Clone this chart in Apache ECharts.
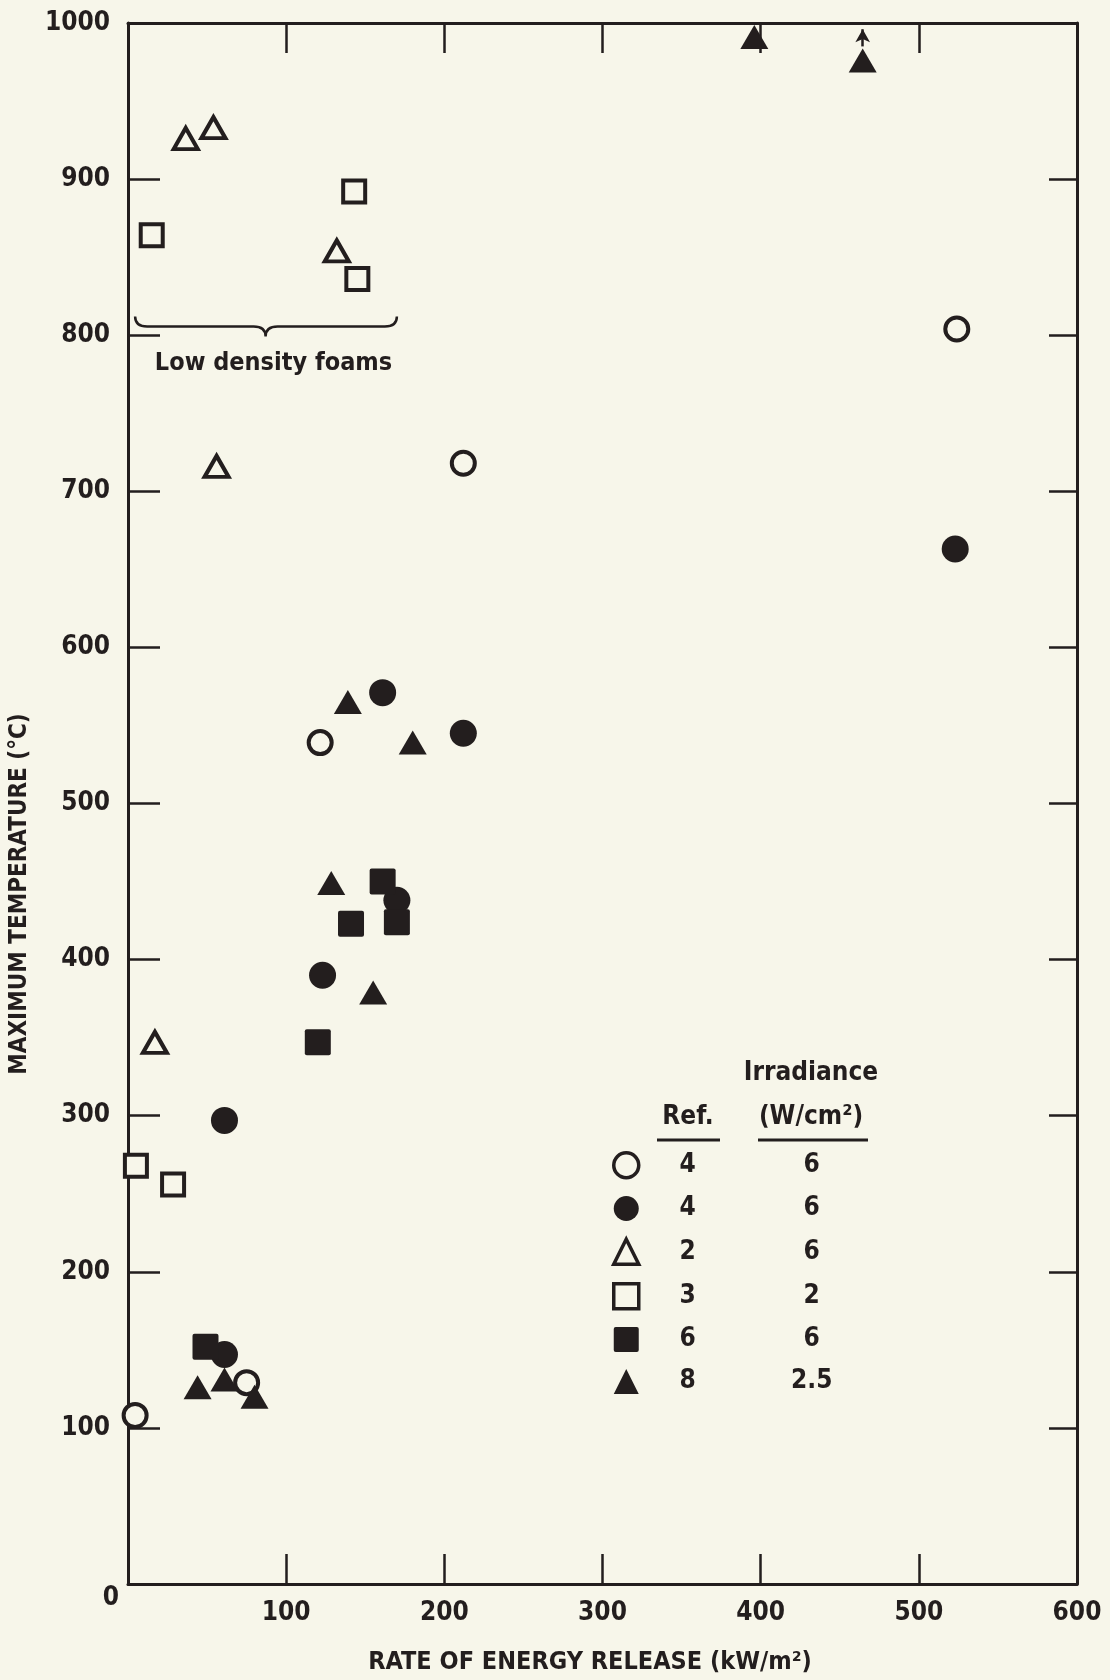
<!DOCTYPE html>
<html>
<head>
<meta charset="utf-8">
<script src="https://cdn.jsdelivr.net/npm/echarts@6/dist/echarts.min.js"></script>
<style>
  html, body { margin: 0; padding: 0; background: #f7f6ea; }
  #chart { width: 1110px; height: 1680px; }
</style>
</head>
<body>
<div id="chart"></div>
<script>
// ---- data (x: rate of energy release kW/m2, y: max temperature C) ----
const xTicks = [0, 100, 200, 300, 400, 500, 600];
const yTicks = [0, 100, 200, 300, 400, 500, 600, 700, 800, 900, 1000];

const openCircles    = [[4.5,108],[75,129],[121.5,539],[212,718],[524,804]];
const filledCircles  = [[61,147],[61,297],[123,390],[170,438],[212,545],[161,571],[523,663]];
const openTriangles  = [[17,347],[56,716],[132,854],[36.5,926],[54,933]];
const openSquares    = [[5,268],[28.5,256],[15,864],[145,836],[143,892]];
const filledSquares  = [[49,152],[120,347],[141,423],[170,424],[161,450]];
const filledTriangles= [[44,126],[61,131],[80,120],[155,379],[128.5,449],[180,539],[139,565],[396,991],[464.5,976]];

const seriesNames = ['open circle','filled circle','open triangle','open square','filled square','filled triangle'];
const legendRefs  = ['4','4','2','3','6','8'];
const legendIrr   = ['6','6','6','2','6','2.5'];

// arrow above the off-scale point (value continues beyond)
const arrowFrom = [464.5, 985];
const arrowTo   = [464.5, 996];

// brace over the low density foams: [xStart, xEnd, yBase, xTip]
const braceData = [[4.5, 170, 805.5, 87]];
const braceLabel = 'Low density foams';
const braceLabelPos = [92, 782];

const xTitle = 'RATE OF ENERGY RELEASE (kW/m\u00b2)';
const yTitle = 'MAXIMUM TEMPERATURE (\u00b0C)';

const ink = '#231e1e';
const bg = '#f7f6ea';
const font = "'Liberation Sans Narrow', 'DejaVu Sans Condensed', 'Arial Narrow', sans-serif";
const squarePath = 'path://M2,0 L24,0 Q26,0 26,2 L26,24 Q26,26 24,26 L2,26 Q0,26 0,24 L0,2 Q0,0 2,0 Z';

const chart = echarts.init(document.getElementById('chart'));

const commonX = {
  type: 'value', min: xTicks[0], max: xTicks[xTicks.length - 1], interval: 100,
  axisLine: { show: true, onZero: false, lineStyle: { color: ink, width: 3 } },
  axisTick: { show: true, inside: true, length: 30, lineStyle: { color: ink, width: 2.5 } },
  splitLine: { show: false }
};
const commonY = {
  type: 'value', min: yTicks[0], max: yTicks[yTicks.length - 1], interval: 100,
  axisLine: { show: true, onZero: false, lineStyle: { color: ink, width: 3 } },
  axisTick: { show: true, inside: true, length: 32, lineStyle: { color: ink, width: 2.5 } },
  splitLine: { show: false }
};

function sc(name, data, symbol, size, open) {
  return {
    name: name, type: 'scatter', xAxisIndex: 0, yAxisIndex: 0,
    data: data, symbol: symbol, symbolSize: size,
    itemStyle: open
      ? { color: bg, borderColor: ink, borderWidth: 4, opacity: 1 }
      : { color: ink, borderColor: ink, borderWidth: 0, opacity: 1 },
    emphasis: { disabled: true },
    z: open ? 3 : 4
  };
}

const series = [
  sc(seriesNames[0], openCircles, 'circle', 23, true),
  sc(seriesNames[1], filledCircles, 'circle', 27, false),
  sc(seriesNames[2], openTriangles, 'triangle', [24, 21], true),
  sc(seriesNames[3], openSquares, 'rect', 22, true),
  sc(seriesNames[4], filledSquares, squarePath, 26, false),
  sc(seriesNames[5], filledTriangles, 'triangle', [28, 24], false)
];
series[5].markLine = {
  silent: true, symbol: ['none', 'arrow'], symbolSize: [11, 13],
  label: { show: false },
  lineStyle: { color: ink, width: 2.5, type: 'solid' },
  data: [[{ coord: arrowFrom }, { coord: arrowTo }]]
};

series.push({
  type: 'custom', name: 'brace', xAxisIndex: 0, yAxisIndex: 0,
  silent: true, z: 2,
  data: braceData,
  renderItem: function (params, api) {
    const x0 = api.value(0), x1 = api.value(1), yb = api.value(2), xt = api.value(3);
    const pL = api.coord([x0, yb]), pR = api.coord([x1, yb]), pT = api.coord([xt, yb]);
    const y = pL[1];
    const c = 12, d = 10;
    const path = 'M' + pL[0] + ' ' + (y - d) +
      ' Q' + pL[0] + ' ' + y + ' ' + (pL[0] + c) + ' ' + y +
      ' L' + (pT[0] - c) + ' ' + y +
      ' Q' + pT[0] + ' ' + y + ' ' + pT[0] + ' ' + (y + d) +
      ' Q' + pT[0] + ' ' + y + ' ' + (pT[0] + c) + ' ' + y +
      ' L' + (pR[0] - c) + ' ' + y +
      ' Q' + pR[0] + ' ' + y + ' ' + pR[0] + ' ' + (y - d);
    const pText = api.coord(braceLabelPos);
    return {
      type: 'group',
      children: [
        { type: 'path', shape: { pathData: path },
          style: { fill: null, stroke: ink, lineWidth: 2.5 } },
        { type: 'text', x: pText[0], y: pText[1],
          style: { text: braceLabel, fill: ink, font: 'bold 25px ' + font,
                   textAlign: 'center', textVerticalAlign: 'middle' } }
      ]
    };
  }
});

const legendData = seriesNames.map((n, i) => ({
  name: n,
  itemStyle: { borderWidth: (i === 0 || i === 2 || i === 3) ? 3.5 : 0 }
}));

const option = {
  backgroundColor: bg,
  animation: false,
  textStyle: { fontFamily: font },
  grid: { left: 128, top: 23, right: 33, bottom: 96, containLabel: false },
  xAxis: [
    Object.assign({}, commonX, {
      position: 'bottom',
      axisLabel: { show: true, margin: 16, fontSize: 26, fontWeight: 'bold', color: ink, fontFamily: font,
        formatter: v => v === 0 ? '' : String(v) }
    }),
    Object.assign({}, commonX, { position: 'top', axisLabel: { show: false } })
  ],
  yAxis: [
    Object.assign({}, commonY, {
      position: 'left',
      axisLabel: { show: true, margin: 18, fontSize: 26, fontWeight: 'bold', color: ink, fontFamily: font,
        formatter: v => v === 0 ? '' : String(v) }
    }),
    Object.assign({}, commonY, { position: 'right', axisTick: Object.assign({}, commonY.axisTick, { length: 28 }), axisLabel: { show: false } })
  ],
  legend: {
    orient: 'vertical', left: 607, top: 1146, padding: 5,
    itemWidth: 25, itemHeight: 25, itemGap: 16, itemTextGap: 21,
    selectedMode: false,
    data: legendData,
    formatter: function (name) {
      const i = seriesNames.indexOf(name);
      return '{r|' + legendRefs[i] + '}{i|' + legendIrr[i] + '}';
    },
    textStyle: {
      color: ink, fontFamily: font, fontWeight: 'bold', fontSize: 26,
      rich: {
        r: { width: 88, align: 'center', fontSize: 26, fontWeight: 'bold', fontFamily: font, color: ink },
        i: { width: 160, align: 'center', fontSize: 26, fontWeight: 'bold', fontFamily: font, color: ink }
      }
    }
  },
  graphic: [
    { type: 'text', x: 590, y: 1662, silent: true,
      style: { text: xTitle, font: 'bold 25px ' + font, fill: ink, textAlign: 'center', textVerticalAlign: 'middle' } },
    { type: 'text', x: 20, y: 894, rotation: Math.PI / 2, silent: true,
      style: { text: yTitle, font: 'bold 24px ' + font, fill: ink, textAlign: 'center', textVerticalAlign: 'middle' } },
    { type: 'text', x: 111, y: 1598, silent: true,
      style: { text: '0', font: 'bold 26px ' + font, fill: ink, textAlign: 'center', textVerticalAlign: 'middle' } },
    { type: 'text', x: 811, y: 1073, silent: true,
      style: { text: 'Irradiance', font: 'bold 26px ' + font, fill: ink, textAlign: 'center', textVerticalAlign: 'middle' } },
    { type: 'text', x: 811, y: 1117, silent: true,
      style: { text: '(W/cm\u00b2)', font: 'bold 26px ' + font, fill: ink, textAlign: 'center', textVerticalAlign: 'middle' } },
    { type: 'text', x: 688, y: 1117, silent: true,
      style: { text: 'Ref.', font: 'bold 26px ' + font, fill: ink, textAlign: 'center', textVerticalAlign: 'middle' } },
    { type: 'line', silent: true, shape: { x1: 657, y1: 1140, x2: 720, y2: 1140 },
      style: { stroke: ink, lineWidth: 3 } },
    { type: 'line', silent: true, shape: { x1: 758, y1: 1140, x2: 868, y2: 1140 },
      style: { stroke: ink, lineWidth: 3 } }
  ],
  series: series
};

chart.setOption(option);
</script>
</body>
</html>
